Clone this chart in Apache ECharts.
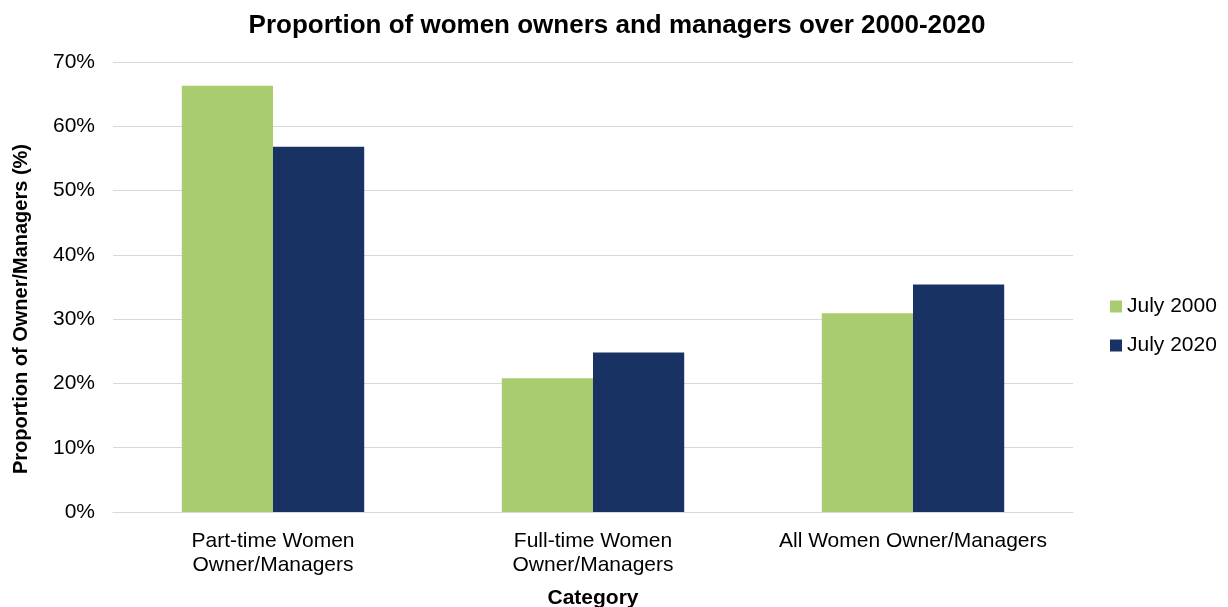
<!DOCTYPE html>
<html>
<head>
<meta charset="utf-8">
<script src="https://cdn.jsdelivr.net/npm/echarts@6/dist/echarts.min.js"></script>
<style>
  html, body { margin: 0; padding: 0; background: #fff; }
  #chart { width: 1228px; height: 607px; }
</style>
</head>
<body>
<div id="chart"></div>
<script>
// data
const categories = ['Part-time Women\nOwner/Managers', 'Full-time Women\nOwner/Managers', 'All Women Owner/Managers'];
const july2000 = [66.3, 20.8, 30.9];
const july2020 = [56.8, 24.8, 35.4];
const yTicks = [0, 10, 20, 30, 40, 50, 60, 70];

const font = '"Liberation Sans", Arial, sans-serif';
const chart = echarts.init(document.getElementById('chart'));

chart.setOption({
  animation: false,
  textStyle: { fontFamily: font },
  title: {
    text: 'Proportion of women owners and managers over 2000-2020',
    left: 612, top: 8, textAlign: 'center',
    textStyle: { fontFamily: font, fontSize: 26, fontWeight: 'bold', color: '#000' }
  },
  legend: {
    orient: 'vertical',
    left: 1105, top: 291,
    itemWidth: 12, itemHeight: 12, itemGap: 18,
    icon: 'rect',
    textStyle: { fontFamily: font, fontSize: 21, color: '#000' },
    data: ['July 2000', 'July 2020']
  },
  grid: { left: 113, right: 155, top: 62, bottom: 95, outerBoundsMode: 'none' },
  xAxis: {
    type: 'category',
    data: categories,
    name: 'Category',
    nameLocation: 'middle',
    nameGap: 76,
    nameTextStyle: { fontFamily: font, fontSize: 21, fontWeight: 'bold', color: '#000' },
    axisLine: { lineStyle: { color: '#d9d9d9', width: 1 } },
    axisTick: { show: false },
    axisLabel: { fontFamily: font, fontSize: 21, color: '#000', margin: 17, lineHeight: 24, interval: 0 }
  },
  yAxis: {
    type: 'value',
    min: yTicks[0], max: yTicks[yTicks.length - 1], interval: 10,
    name: 'Proportion of Owner/Managers (%)',
    nameLocation: 'middle',
    nameGap: 82,
    nameTextStyle: { fontFamily: font, fontSize: 20, fontWeight: 'bold', color: '#000', padding: [0, 44, 0, 0] },
    axisLine: { show: false },
    axisTick: { show: false },
    axisLabel: { fontFamily: font, fontSize: 21, color: '#000', margin: 18, formatter: '{value}%' },
    splitLine: { lineStyle: { color: '#d9d9d9', width: 1 } }
  },
  series: [
    {
      name: 'July 2000', type: 'bar', data: july2000,
      barGap: '0%', barCategoryGap: '43%',
      itemStyle: { color: '#a9cc70' }
    },
    {
      name: 'July 2020', type: 'bar', data: july2020,
      barGap: '0%', barCategoryGap: '43%',
      itemStyle: { color: '#183263' }
    }
  ]
});
</script>
</body>
</html>
